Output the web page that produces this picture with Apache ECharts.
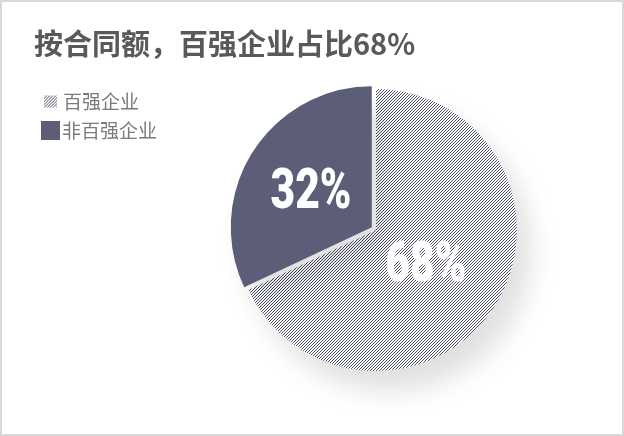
<!DOCTYPE html>
<html>
<head>
<meta charset="utf-8">
<script src="https://cdn.jsdelivr.net/npm/echarts@6/dist/echarts.min.js"></script>
<style>
html,body{margin:0;padding:0;background:#fff;}
#chart{width:624px;height:436px;}
</style>
</head>
<body>
<div id="chart"></div>
<script>
const titleText = '按合同额，百强企业占比68%';
const categories = ['百强企业', '非百强企业'];
const values = [68, 32];
const labels = ['68%', '32%'];

const darkColor = '#5b5e76';

function makeHatch() {
  const c = document.createElement('canvas');
  c.width = 3; c.height = 3;
  const ctx = c.getContext('2d');
  ctx.fillStyle = '#ffffff';
  ctx.fillRect(0, 0, 3, 3);
  ctx.fillStyle = '#4a4d64';
  for (let i = 0; i < 3; i++) ctx.fillRect(2 - i, i, 1, 1);
  return c;
}

const hatch = { image: makeHatch(), repeat: 'repeat' };
const chart = echarts.init(document.getElementById('chart'));
const fills = [hatch, darkColor];
const labelDist = [59, 77];
const noShadow = { shadowBlur: 0, shadowOffsetX: 0, shadowOffsetY: 0, shadowColor: 'rgba(0,0,0,0)' };

chart.setOption({
  animation: false,
  backgroundColor: '#fff',
  graphic: [{
    id: 'frame', type: 'rect', silent: true, z: 100,
    shape: { x: 1, y: 1, width: 622, height: 434 },
    style: { fill: 'none', stroke: '#d9d9d9', lineWidth: 2 }
  }],
  title: {
    text: titleText,
    left: 34, top: 29, padding: 0,
    textStyle: { fontFamily: 'Noto Sans CJK SC', fontWeight: 'bold', fontSize: 29, color: '#595959' }
  },
  legend: [
    {
      data: [categories[0]], orient: 'vertical', left: 44, top: 92, padding: 0,
      itemWidth: 13, itemHeight: 12, icon: 'rect',
      itemStyle: noShadow,
      textStyle: { fontFamily: 'Noto Sans CJK SC', fontSize: 19, color: '#7a7a7a', padding: [0, 0, 0, 1] }
    },
    {
      data: [categories[1]], orient: 'vertical', left: 41, top: 121, padding: 0,
      itemWidth: 19, itemHeight: 19, icon: 'rect',
      itemStyle: noShadow,
      textStyle: { fontFamily: 'Noto Sans CJK SC', fontSize: 19, color: '#7a7a7a', padding: [0, 0, 0, -3] }
    }
  ],
  series: [{
    type: 'pie',
    center: [376, 230],
    radius: [0, 141],
    startAngle: 90,
    clockwise: true,
    selectedMode: 'single',
    selectedOffset: 5,
    avoidLabelOverlap: false,
    itemStyle: {
      shadowColor: 'rgba(0,0,0,0.12)', shadowBlur: 26, shadowOffsetX: 14, shadowOffsetY: 20
    },
    label: { show: false },
    labelLine: { show: false },
    emphasis: { disabled: true },
    data: categories.map((name, i) => ({
      name: name,
      value: values[i],
      selected: i === 1,
      itemStyle: { color: fills[i] }
    }))
  }]
});

// Narrow, heavy labels placed from the pie's own layout
const pieData = chart.getModel().getSeriesByIndex(0).getData();
const labelGraphics = [];
for (let i = 0; i < pieData.count(); i++) {
  const lay = pieData.getItemLayout(i);
  const mid = (lay.startAngle + lay.endAngle) / 2;
  const x = lay.cx + Math.cos(mid) * labelDist[i];
  const y = lay.cy + Math.sin(mid) * labelDist[i] + 5;
  labelGraphics.push({
    id: 'lab' + i, type: 'text', silent: true, z: 50,
    x: x, y: y, scaleX: 0.76, scaleY: 1,
    style: {
      text: labels[i], fill: '#fff',
      font: '900 56px Roboto, "Liberation Sans", sans-serif',
      align: 'center', verticalAlign: 'middle'
    }
  });
}
chart.setOption({ graphic: labelGraphics });
</script>
</body>
</html>
